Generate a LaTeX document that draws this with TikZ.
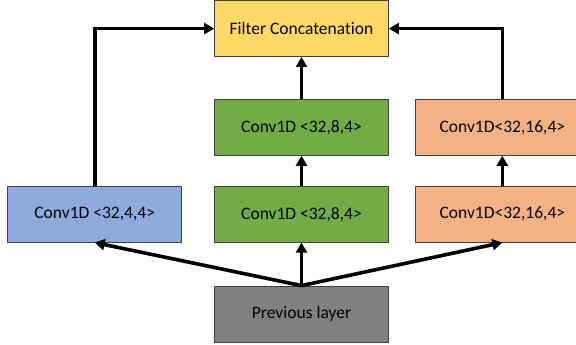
\documentclass[tikz,border=0pt]{standalone}
\usepackage{fontspec}
\setmainfont{Carlito}[Ligatures=NoCommon]
\usetikzlibrary{arrows.meta,positioning}
\definecolor{concatc}{HTML}{FFD966}
\definecolor{greenc}{HTML}{70AD47}
\definecolor{orangec}{HTML}{F4B183}
\definecolor{bluec}{HTML}{8FAADC}
\definecolor{prevc}{HTML}{808080}
\definecolor{edge}{HTML}{404040}
\tikzset{
  box/.style={draw=edge,line width=0.8pt,minimum width=174pt,minimum height=56pt,inner sep=2pt,align=center,font=\fontsize{17.5}{21}\selectfont},
  ar/.style={-{Triangle[length=10pt,width=11pt]},line width=3.6pt,black},
}
\begin{document}
\begin{tikzpicture}[x=1pt,y=1pt]
\useasboundingbox (0,0) rectangle (576,345);
\node[box,fill=prevc] (prev) at (301.5,31) {Previous layer};
\node[box,fill=greenc,above=43pt of prev] (mid) {Conv1D <32,8,4>};
\node[box,fill=greenc,above=30pt of mid] (midtop) {Conv1D <32,8,4>};
\node[box,fill=concatc,above=42pt of midtop] (concat) {Filter Concatenation};
\node[box,fill=bluec,left=32pt of mid] (left) {Conv1D <32,4,4>};
\node[box,fill=orangec,right=26pt of mid] (right) {Conv1D<32,16,4>};
\node[box,fill=orangec,above=30pt of right] (righttop) {Conv1D<32,16,4>};
\draw[ar] (prev.north) -- (left.south);
\draw[ar] (prev.north) -- (mid.south);
\draw[ar] (prev.north) -- (right.south);
\draw[ar] (mid) -- (midtop);
\draw[ar] (right) -- (righttop);
\draw[ar] (midtop) -- (concat);
\draw[ar] (left.north) |- (concat.west);
\draw[ar] (righttop.north) |- (concat.east);
\end{tikzpicture}
\end{document}
